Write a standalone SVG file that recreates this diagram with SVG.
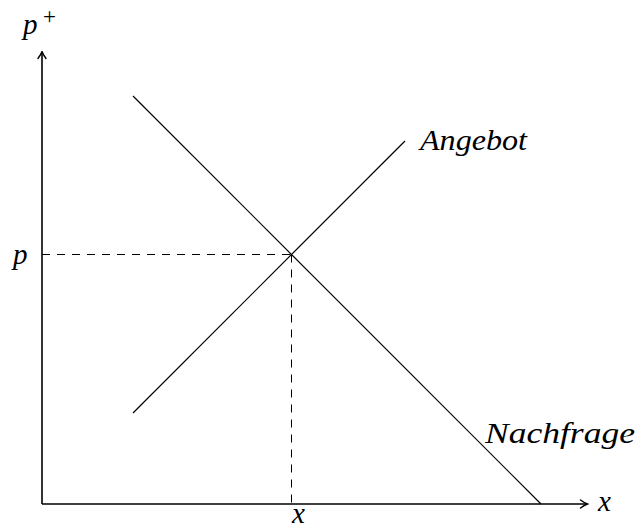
<svg xmlns="http://www.w3.org/2000/svg" width="640" height="529" viewBox="0 0 640 529">
<style>
.axis{stroke:#000;stroke-width:1.6;fill:none}
.curve{stroke:#000;stroke-width:1.2;fill:none}
.dash{stroke:#000;stroke-width:1;fill:none;stroke-dasharray:8 7}
.lbl{font-family:'Liberation Serif','Times New Roman',serif;font-style:italic;font-size:29px;fill:#000}
.sup{font-family:'Liberation Serif','Times New Roman',serif;font-style:normal;font-size:23px;fill:#000}
</style>
<defs>
<marker id="arr" viewBox="0 0 10 10" refX="8.5" refY="5" markerWidth="10" markerHeight="10" markerUnits="userSpaceOnUse" orient="auto">
<path d="M2,1 Q6,4 9,5 Q6,6 2,9" stroke="#000" stroke-width="1.4" fill="none" stroke-linecap="round"/>
</marker>
</defs>
<g id="connectors">
<line class="dash" x1="42" y1="254.5" x2="291.5" y2="254.5"/>
<line class="dash" x1="291.5" y1="254.5" x2="291.5" y2="504"/>
<line id="nachfrage-line" class="curve" x1="133" y1="96" x2="541" y2="504"/>
<line id="angebot-line" class="curve" x1="133" y1="413" x2="405" y2="141"/>
<line id="y-axis" class="axis" x1="42" y1="504" x2="42" y2="52" marker-end="url(#arr)"/>
<line id="x-axis" class="axis" x1="42" y1="504" x2="587" y2="504" marker-end="url(#arr)"/>
</g>
<g id="label-pplus"><text class="lbl" x="23" y="34">p</text><text class="sup" x="43" y="24">+</text></g>
<g id="label-p"><text class="lbl" x="13" y="264">p</text></g>
<g id="label-x-bottom"><text class="lbl" x="292" y="523">x</text></g>
<g id="label-x-axis"><text class="lbl" x="598" y="511">x</text></g>
<g id="label-angebot"><text class="lbl" x="420" y="150" textLength="107" lengthAdjust="spacingAndGlyphs">Angebot</text></g>
<g id="label-nachfrage"><text class="lbl" x="485" y="443" textLength="150" lengthAdjust="spacingAndGlyphs">Nachfrage</text></g>
</svg>
